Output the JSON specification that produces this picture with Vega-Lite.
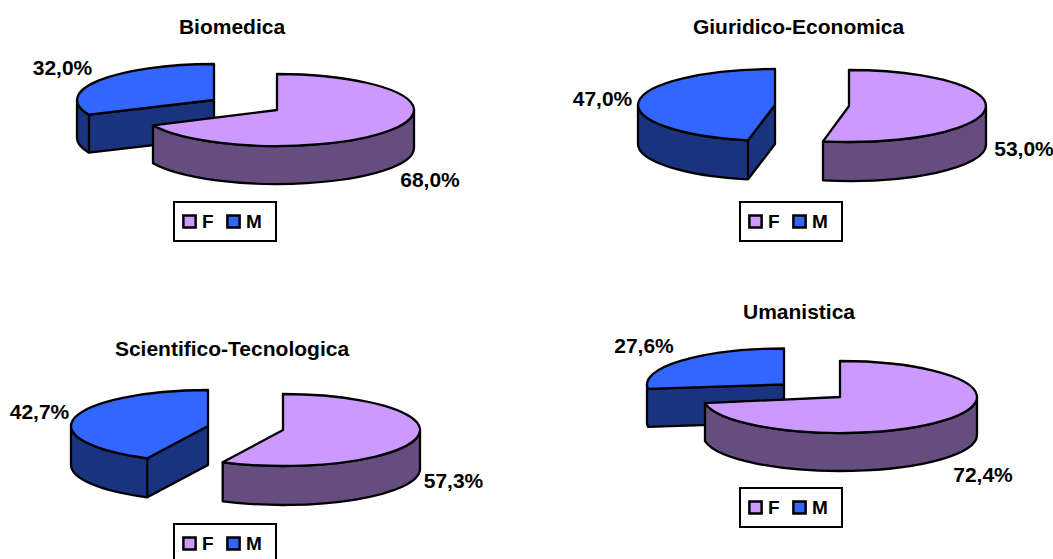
{
"$schema":"https://vega.github.io/schema/vega-lite/v6.json",
"padding":0,
"background":"white",
"datasets":{"quote":[
{"area":"Biomedica","sesso":"M","quota":0.32},
{"area":"Biomedica","sesso":"F","quota":0.68},
{"area":"Giuridico-Economica","sesso":"M","quota":0.47},
{"area":"Giuridico-Economica","sesso":"F","quota":0.53},
{"area":"Scientifico-Tecnologica","sesso":"M","quota":0.427},
{"area":"Scientifico-Tecnologica","sesso":"F","quota":0.573},
{"area":"Umanistica","sesso":"M","quota":0.276},
{"area":"Umanistica","sesso":"F","quota":0.724}
]},
"columns":2,
"spacing":0,
"bounds":"flush",
"resolve":{"scale":{"color":"independent","shape":"independent"},"legend":{"color":"independent"}},
"concat":[
{"width":526,"height":278,"data":{"name":"quote"},"transform":[{"filter":"datum.area==='Biomedica'"}],
 "title":{"text":"Biomedica","dx":-31,"dy":42},
 "resolve":{"scale":{"shape":"independent"}},
 "layer":[
 {"mark":{"type":"point","filled":true,"opacity":1,"size":4,"stroke":"#000","strokeWidth":2.3,"strokeJoin":"round","xOffset":2},
  "encoding":{"shape":{"field":"sesso","type":"nominal","legend":null,"scale":{"domain":["F","M"],"range":["M149,-29 A137,36 0 0 1 -112,-13.7 L-112,24.3 A137,36 0 0 0 149,9 Z","M-188,-39 A137,36 0 0 0 -176,-24.3 L-51,-39 L-51,-1 L-176,13.7 A137,36 0 0 1 -188,-1 Z M-176,-24.3 L-176,13.7"]}},
  "color":{"condition":{"test":"datum.sesso==='F'","value":"#664D7F"},"value":"#19337F"}}},
 {"mark":{"type":"point","filled":true,"opacity":1,"size":4,"stroke":"#000","strokeWidth":2.3,"strokeJoin":"round","xOffset":2},
  "encoding":{"shape":{"field":"sesso","type":"nominal","legend":null,"scale":{"domain":["F","M"],"range":["M12,-29 L12,-65 A137,36 0 1 1 -112,-13.7 Z","M-51,-39 L-51,-75 A137,36 0 0 0 -176,-24.3 Z"]}},
  "color":{"field":"sesso","type":"nominal","scale":{"domain":["F","M"],"range":["#CC99FF","#3366FF"]},"legend":{"title":"\u00a0","legendX":174,"legendY":202,"encode":{"legend":{"update":{"strokeWidth":{"value":2}}}}}}}},
 {"transform":[{"filter":"datum.sesso==='M'"}],"mark":{"type":"text","dx":-200.5,"dy":-70},"encoding":{"text":{"field":"quota","type":"quantitative","format":".1%"}}},
 {"transform":[{"filter":"datum.sesso==='F'"}],"mark":{"type":"text","dx":167,"dy":41.5},"encoding":{"text":{"field":"quota","type":"quantitative","format":".1%"}}}
 ]},
{"width":526,"height":278,"data":{"name":"quote"},"transform":[{"filter":"datum.area==='Giuridico-Economica'"}],
 "title":{"text":"Giuridico-Economica","dx":9.5,"dy":42},
 "resolve":{"scale":{"shape":"independent"}},
 "layer":[
 {"mark":{"type":"point","filled":true,"opacity":1,"size":4,"stroke":"#000","strokeWidth":2.3,"strokeJoin":"round","xOffset":2},
  "encoding":{"shape":{"field":"sesso","type":"nominal","legend":null,"scale":{"domain":["F","M"],"range":["M195,-33 A137,36 0 0 1 32,2.35 L32,41.35 A137,36 0 0 0 195,6 Z","M-153,-34 A137,36 0 0 0 -43,1.29 L-16,-34 L-16,5 L-43,40.29 A137,36 0 0 1 -153,5 Z M-43,1.29 L-43,40.29"]}},
  "color":{"condition":{"test":"datum.sesso==='F'","value":"#664D7F"},"value":"#19337F"}}},
 {"mark":{"type":"point","filled":true,"opacity":1,"size":4,"stroke":"#000","strokeWidth":2.3,"strokeJoin":"round","xOffset":2},
  "encoding":{"shape":{"field":"sesso","type":"nominal","legend":null,"scale":{"domain":["F","M"],"range":["M58,-33 L58,-69 A137,36 0 1 1 32,2.35 Z","M-16,-34 L-16,-70 A137,36 0 0 0 -43,1.29 Z"]}},
  "color":{"field":"sesso","type":"nominal","scale":{"domain":["F","M"],"range":["#CC99FF","#3366FF"]},"legend":{"title":"\u00a0","legendX":214,"legendY":202,"encode":{"legend":{"update":{"strokeWidth":{"value":2}}}}}}}},
 {"transform":[{"filter":"datum.sesso==='M'"}],"mark":{"type":"text","dx":-186.5,"dy":-39},"encoding":{"text":{"field":"quota","type":"quantitative","format":".1%"}}},
 {"transform":[{"filter":"datum.sesso==='F'"}],"mark":{"type":"text","dx":235,"dy":11},"encoding":{"text":{"field":"quota","type":"quantitative","format":".1%"}}}
 ]},
{"width":526,"height":278,"data":{"name":"quote"},"transform":[{"filter":"datum.area==='Scientifico-Tecnologica'"}],
 "title":{"text":"Scientifico-Tecnologica","dx":-31,"dy":86},
 "resolve":{"scale":{"shape":"independent"}},
 "layer":[
 {"mark":{"type":"point","filled":true,"opacity":1,"size":4,"stroke":"#000","strokeWidth":2.3,"strokeJoin":"round","xOffset":2},
  "encoding":{"shape":{"field":"sesso","type":"nominal","legend":null,"scale":{"domain":["F","M"],"range":["M155,13 A137,36 0 0 1 -42.3,45.32 L-42.3,84.32 A137,36 0 0 0 155,52 Z","M-194,9 A137,36 0 0 0 -117.7,41.27 L-57,9 L-57,48 L-117.7,80.27 A137,36 0 0 1 -194,48 Z M-117.7,41.27 L-117.7,80.27"]}},
  "color":{"condition":{"test":"datum.sesso==='F'","value":"#664D7F"},"value":"#19337F"}}},
 {"mark":{"type":"point","filled":true,"opacity":1,"size":4,"stroke":"#000","strokeWidth":2.3,"strokeJoin":"round","xOffset":2},
  "encoding":{"shape":{"field":"sesso","type":"nominal","legend":null,"scale":{"domain":["F","M"],"range":["M18,13 L18,-23 A137,36 0 1 1 -42.3,45.32 Z","M-57,9 L-57,-27 A137,36 0 0 0 -117.7,41.27 Z"]}},
  "color":{"field":"sesso","type":"nominal","scale":{"domain":["F","M"],"range":["#CC99FF","#3366FF"]},"legend":{"title":"\u00a0","legendX":174,"legendY":246,"encode":{"legend":{"update":{"strokeWidth":{"value":2}}}}}}}},
 {"transform":[{"filter":"datum.sesso==='M'"}],"mark":{"type":"text","dx":-223.5,"dy":-4},"encoding":{"text":{"field":"quota","type":"quantitative","format":".1%"}}},
 {"transform":[{"filter":"datum.sesso==='F'"}],"mark":{"type":"text","dx":190.5,"dy":64.7},"encoding":{"text":{"field":"quota","type":"quantitative","format":".1%"}}}
 ]},
{"width":526,"height":278,"data":{"name":"quote"},"transform":[{"filter":"datum.area==='Umanistica'"}],
 "title":{"text":"Umanistica","dx":10,"dy":49},
 "resolve":{"scale":{"shape":"independent"}},
 "layer":[
 {"mark":{"type":"point","filled":true,"opacity":1,"size":4,"stroke":"#000","strokeWidth":2.3,"strokeJoin":"round","xOffset":2},
  "encoding":{"shape":{"field":"sesso","type":"nominal","legend":null,"scale":{"domain":["F","M"],"range":["M186,-20 A137,36 0 0 1 -86,-13.87 L-86,24.13 A137,36 0 0 0 186,18 Z","M-144,-32.5 A137,36 0 0 0 -143,-28.16 L-7,-32.5 L-7,5.5 L-143,9.84 A137,36 0 0 1 -144,5.5 Z"]}},
  "color":{"condition":{"test":"datum.sesso==='F'","value":"#664D7F"},"value":"#19337F"}}},
 {"mark":{"type":"point","filled":true,"opacity":1,"size":4,"stroke":"#000","strokeWidth":2.3,"strokeJoin":"round","xOffset":2},
  "encoding":{"shape":{"field":"sesso","type":"nominal","legend":null,"scale":{"domain":["F","M"],"range":["M49,-20 L49,-56 A137,36 0 1 1 -86,-13.87 Z","M-7,-32.5 L-7,-68.5 A137,36 0 0 0 -143,-28.16 Z"]}},
  "color":{"field":"sesso","type":"nominal","scale":{"domain":["F","M"],"range":["#CC99FF","#3366FF"]},"legend":{"title":"\u00a0","legendX":214,"legendY":210,"encode":{"legend":{"update":{"strokeWidth":{"value":2}}}}}}}},
 {"transform":[{"filter":"datum.sesso==='M'"}],"mark":{"type":"text","dx":-145,"dy":-70.3},"encoding":{"text":{"field":"quota","type":"quantitative","format":".1%"}}},
 {"transform":[{"filter":"datum.sesso==='F'"}],"mark":{"type":"text","dx":194,"dy":59},"encoding":{"text":{"field":"quota","type":"quantitative","format":".1%"}}}
 ]}
],
"config":{
 "locale":{"number":{"decimal":",","thousands":".","grouping":[3],"currency":["","€"]}},
 "view":{"stroke":null},
 "font":"Liberation Sans",
 "title":{"font":"Liberation Sans","fontSize":21,"fontWeight":"bold","color":"#000","anchor":"middle","offset":0,"baseline":"middle","frame":"group"},
 "text":{"font":"Liberation Sans","fontSize":21,"fontWeight":"bold","color":"#000","align":"center","baseline":"middle"},
 "legend":{"orient":"none","direction":"horizontal","columns":2,"symbolType":"square","symbolSize":150,"symbolStrokeColor":"#000","symbolStrokeWidth":2.5,"labelFont":"Liberation Sans","labelFontSize":19,"labelFontWeight":"bold","labelColor":"#000","labelOffset":3,"columnPadding":10,"padding":6,"clipHeight":27,"titleOrient":"right","titlePadding":8,"titleFontSize":8,"fillColor":"#fff","strokeColor":"#000","symbolOpacity":1}
}
}
